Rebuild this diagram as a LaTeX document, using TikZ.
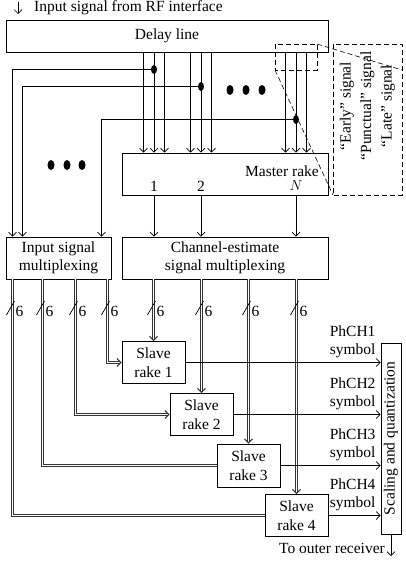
\documentclass[tikz,border=0pt]{standalone}
\usepackage{fontspec}
\setmainfont{Liberation Serif}
\usetikzlibrary{arrows.meta}

\tikzset{
	box/.style = {draw, line width=0.7pt, inner sep=0pt, align=center},
	sig/.style = {line width=0.7pt, -{Straight Barb[length=4pt, width=8pt]}},
	bus/.style = {draw=black!80, line width=1pt, double=white, double distance=1pt},
	zoomline/.style = {line width=0.6pt, dash pattern=on 5pt off 3pt},
	bigdot/.style = {fill=black},
}
\newcommand{\diagfont}{\fontsize{15.5}{18.5}\selectfont}

\begin{document}
\begin{tikzpicture}[x=1pt, y=-1pt, font=\diagfont]
	\useasboundingbox (0,0) rectangle (406,562);

	\coordinate (rftop) at (18,2);
	\coordinate (rfbot) at (18,14);
	\draw[sig] (rftop) -- (rfbot);
	\node[anchor=base west, inner sep=0pt] (rf) at (34,12) {Input signal from RF interface};

	\node[box, minimum width=322pt, minimum height=32pt] (delay) at (167,36) {Delay line};
	\node[box, minimum width=206pt, minimum height=42pt] (master) at (225,174) {};
	\node[anchor=east, inner sep=0pt] (mastertxt) at (319,171) {Master rake};
	\node[box, minimum width=105pt, minimum height=42pt] (insig) at (58.5,258) {Input signal\\multiplexing};
	\node[box, minimum width=206pt, minimum height=42pt] (chest) at (225,258) {Channel-estimate\\signal multiplexing};

	\node[box, minimum width=63pt, minimum height=42pt] (rake1) at (153.5,362.5) {Slave\\rake 1};
	\node[box, minimum width=63pt, minimum height=42pt] (rake2) at (201.5,414.5) {Slave\\rake 2};
	\node[box, minimum width=63pt, minimum height=43pt] (rake3) at (248.5,465.5) {Slave\\rake 3};
	\node[box, minimum width=63pt, minimum height=42pt] (rake4) at (296.5,515.5) {Slave\\rake 4};

	\node[box, minimum width=20pt, minimum height=191pt] (scale) at (391,438.5) {};
	\node[rotate=90, inner sep=0pt] (scaletxt) at (scale) {Scaling and quantization};

	% taps of the delay line
	\node[inner sep=0pt] (m1) at (154,186) {1};
	\node[inner sep=0pt] (m2) at (201,186) {2};
	\node[inner sep=0pt] (mN) at (296,186) {$N$};
	\foreach \n in {1, 2, N} {
		\foreach \o in {-10.5, 0, 10.5}
			\draw[sig] ([xshift=\o pt]m\n |- delay.south) -- ([xshift=\o pt]m\n |- master.north);
		\draw[sig] (m\n |- master.south) -- (m\n |- chest.north);
	}

	\coordinate (d1) at (154,69.5);
	\coordinate (d2) at (201,86.5);
	\coordinate (d3) at (296,119.5);
	\draw[sig] (d1) -| (12.5,0 |- insig.north);
	\draw[sig] (d2) -| (22.5,0 |- insig.north);
	\draw[sig] (d3) -| (101.5,0 |- insig.north);
	\foreach \d in {d1, d2, d3}
		\fill[bigdot] (\d) ellipse (3pt and 4.5pt);

	\foreach \x in {230, 246, 262}
		\fill[bigdot] (\x,90) ellipse (3.5pt and 5pt);
	\foreach \x in {51, 67, 82}
		\fill[bigdot] (\x,165) ellipse (3.5pt and 5pt);

	% zoom of the taps
	\draw[zoomline] (275,44) rectangle (317,70);
	\draw[zoomline] (333,44) rectangle (402,195);
	\draw[zoomline] (317,44) -- (402,70);
	\draw[zoomline] (275,70) -- (333,195);
	\node[rotate=90, align=center, inner sep=0pt, font=\fontsize{15.5}{20.5}\selectfont] (zoomtxt) at (367.5,106)
		{``Early'' signal\\``Punctual'' signal\\``Late'' signal};

	% buses to the slave rakes
	\draw[bus] (12.5,0 |- insig.south) |- (rake4.west);
	\draw[bus] (42.5,0 |- insig.south) |- (rake3.west);
	\draw[bus, -{Straight Barb[length=4pt, width=8pt]}] (75.5,0 |- insig.south) |- (rake2.west);
	\draw[bus, -{Straight Barb[length=4pt, width=8pt]}] (107.5,0 |- insig.south) |- (rake1.west);
	\foreach \r in {rake1, rake2, rake3, rake4}
		\draw[bus, -{Straight Barb[length=4pt, width=8pt]}] (\r.north |- chest.south) -- (\r.north);

	\foreach \x [count=\i] in {12.5, 42.5, 75.5, 107.5, 153.5, 201.5, 248.5, 296.5} {
		\draw[line width=0.7pt] (\x-6,315) -- (\x+2,301);
		\node[inner sep=0pt] (w\i) at (\x+7,311) {6};
	}

	% outputs
	\foreach \r/\k in {rake1/1, rake2/2, rake3/3, rake4/4} {
		\draw[sig] (\r.east) -- (\r.east -| scale.west);
		\node[anchor=south east, align=right, inner sep=0pt] (ph\k) at ([xshift=-5pt, yshift=4pt]\r.east -| scale.west) {PhCH\k\\symbol};
	}

	\coordinate (outend) at (391,556);
	\draw[sig] (scale.south) -- (outend);
	\node[anchor=east, inner sep=0pt] (outtxt) at (385,548) {To outer receiver};
\end{tikzpicture}
\end{document}
